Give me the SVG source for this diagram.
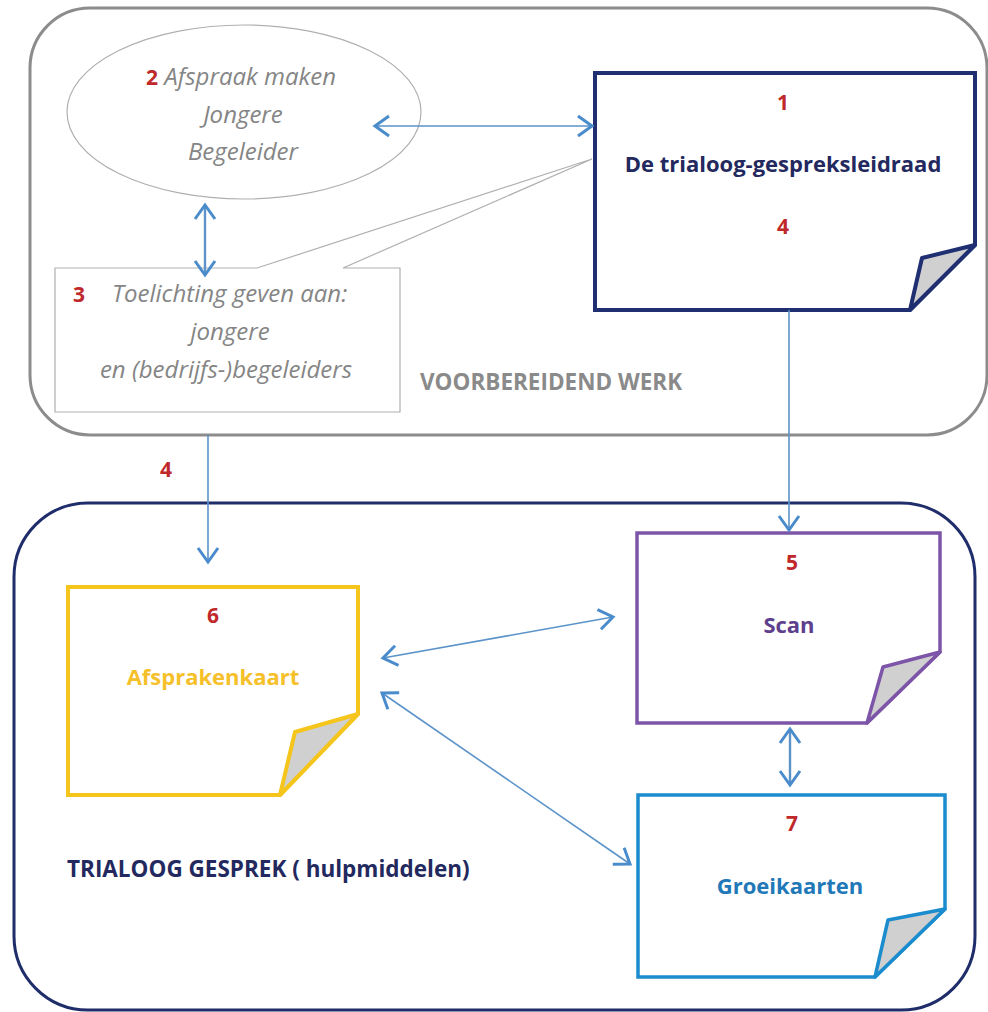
<svg xmlns="http://www.w3.org/2000/svg" width="988" height="1012" viewBox="0 0 988 1012">
<style>
text{font-family:"Open Sans","Noto Sans","Liberation Sans",sans-serif;font-size:22px}
.num{fill:#c0282a;font-weight:bold;font-size:21px}
.it{fill:#858585;font-style:italic;font-size:24px}
.gb{fill:#8a8a8a;font-weight:bold;font-size:22.5px}
.c{text-anchor:middle}
.conn{fill:none;stroke:#5b93c9;stroke-width:1.6}
.conn2{fill:none;stroke:#5b93c9;stroke-width:2.4}
.fold{fill:#d0d0d0}
</style>
<defs>
<marker id="ah" markerUnits="userSpaceOnUse" viewBox="-16 -12 20 24" refX="0" refY="0" markerWidth="20" markerHeight="24" orient="auto-start-reverse">
<path d="M-14,-10 L0,0 L-14,10" fill="none" stroke="#4a8ccb" stroke-width="3" stroke-linejoin="miter"/>
</marker>
</defs>

<g id="container-voorbereidend">
<rect x="30" y="8" width="957" height="427" rx="60" ry="60" fill="none" stroke="#8c8c8c" stroke-width="3"/>
<text class="gb" x="420" y="390">VOORBEREIDEND WERK</text>
</g>

<g id="container-trialoog">
<rect x="14" y="503" width="961" height="507" rx="74" ry="74" fill="none" stroke="#1f2d6b" stroke-width="3"/>
<text x="67" y="877" style="fill:#23295e;font-weight:bold;font-size:22.5px">TRIALOOG GESPREK ( hulpmiddelen)</text>
</g>

<g id="node-afspraak">
<ellipse cx="244" cy="112" rx="177" ry="87" fill="#fff" stroke="#b0b0b0" stroke-width="1.2"/>
<text class="c" x="241" y="85"><tspan class="num" style="font-style:normal">2</tspan><tspan class="it"> Afspraak maken</tspan></text>
<text class="c it" x="243" y="123">Jongere</text>
<text class="c it" x="243" y="160">Begeleider</text>
</g>

<g id="node-toelichting">
<path d="M55,268 H257 L592,159 L343,268 H400 V412 H55 Z" fill="#fff" stroke="#b0b0b0" stroke-width="1.2"/>
<text class="num" x="73" y="302">3</text>
<text class="it" x="112" y="302">Toelichting geven aan:</text>
<text class="c it" x="230" y="340">jongere</text>
<text class="c it" x="226" y="378">en (bedrijfs-)begeleiders</text>
</g>

<g id="node-leidraad">
<path d="M595,73 H975 V245 L910,310 H595 Z" fill="#fff" stroke="#1f2f72" stroke-width="4" stroke-linejoin="miter"/>
<path class="fold" d="M975,245 L922,258 L910,310 Z" stroke="#1f2f72" stroke-width="4" stroke-linejoin="round"/>
<text class="c num" x="783" y="110">1</text>
<text class="c" x="783" y="172" style="fill:#23295e;font-weight:bold">De trialoog-gespreksleidraad</text>
<text class="c num" x="783" y="234">4</text>
</g>

<g id="node-afsprakenkaart">
<path d="M68,587 H358 V714 L280,795 H68 Z" fill="#fff" stroke="#f5c51b" stroke-width="4"/>
<path class="fold" d="M358,714 L295,732 L280,795 Z" stroke="#f5c51b" stroke-width="4" stroke-linejoin="round"/>
<text class="c num" x="213" y="623">6</text>
<text class="c" x="213" y="685" style="fill:#f5c02a;font-weight:bold">Afsprakenkaart</text>
</g>

<g id="node-scan">
<path d="M637,533 H940 V652 L867,723 H637 Z" fill="#fff" stroke="#7d55a8" stroke-width="3.5"/>
<path class="fold" d="M940,652 L883,667 L867,723 Z" stroke="#7d55a8" stroke-width="3.5" stroke-linejoin="round"/>
<text class="c num" x="792" y="570">5</text>
<text class="c" x="789" y="633" style="fill:#5e3f8e;font-weight:bold">Scan</text>
</g>

<g id="node-groeikaarten">
<path d="M638,795 H945 V909 L875,977 H638 Z" fill="#fff" stroke="#1b8ccd" stroke-width="3.5"/>
<path class="fold" d="M945,909 L888,920 L875,977 Z" stroke="#1b8ccd" stroke-width="3.5" stroke-linejoin="round"/>
<text class="c num" x="792" y="831">7</text>
<text class="c" x="790" y="894" style="fill:#1f78b8;font-weight:bold">Groeikaarten</text>
</g>

<g id="label-4">
<text class="num" x="160" y="477">4</text>
</g>

<g id="connectors">
<line class="conn" x1="375" y1="126" x2="592" y2="126" marker-start="url(#ah)" marker-end="url(#ah)"/>
<line class="conn2" x1="205" y1="205" x2="205" y2="275" marker-start="url(#ah)" marker-end="url(#ah)"/>
<line class="conn" x1="789" y1="310" x2="789" y2="530" marker-end="url(#ah)"/>
<line class="conn" x1="208" y1="435" x2="208" y2="562" marker-end="url(#ah)"/>
<line class="conn" x1="383" y1="658" x2="613" y2="617" marker-start="url(#ah)" marker-end="url(#ah)"/>
<line class="conn" x1="382" y1="693" x2="630" y2="864" marker-start="url(#ah)" marker-end="url(#ah)"/>
<line class="conn2" x1="790" y1="729" x2="790" y2="785" marker-start="url(#ah)" marker-end="url(#ah)"/>
</g>
</svg>
